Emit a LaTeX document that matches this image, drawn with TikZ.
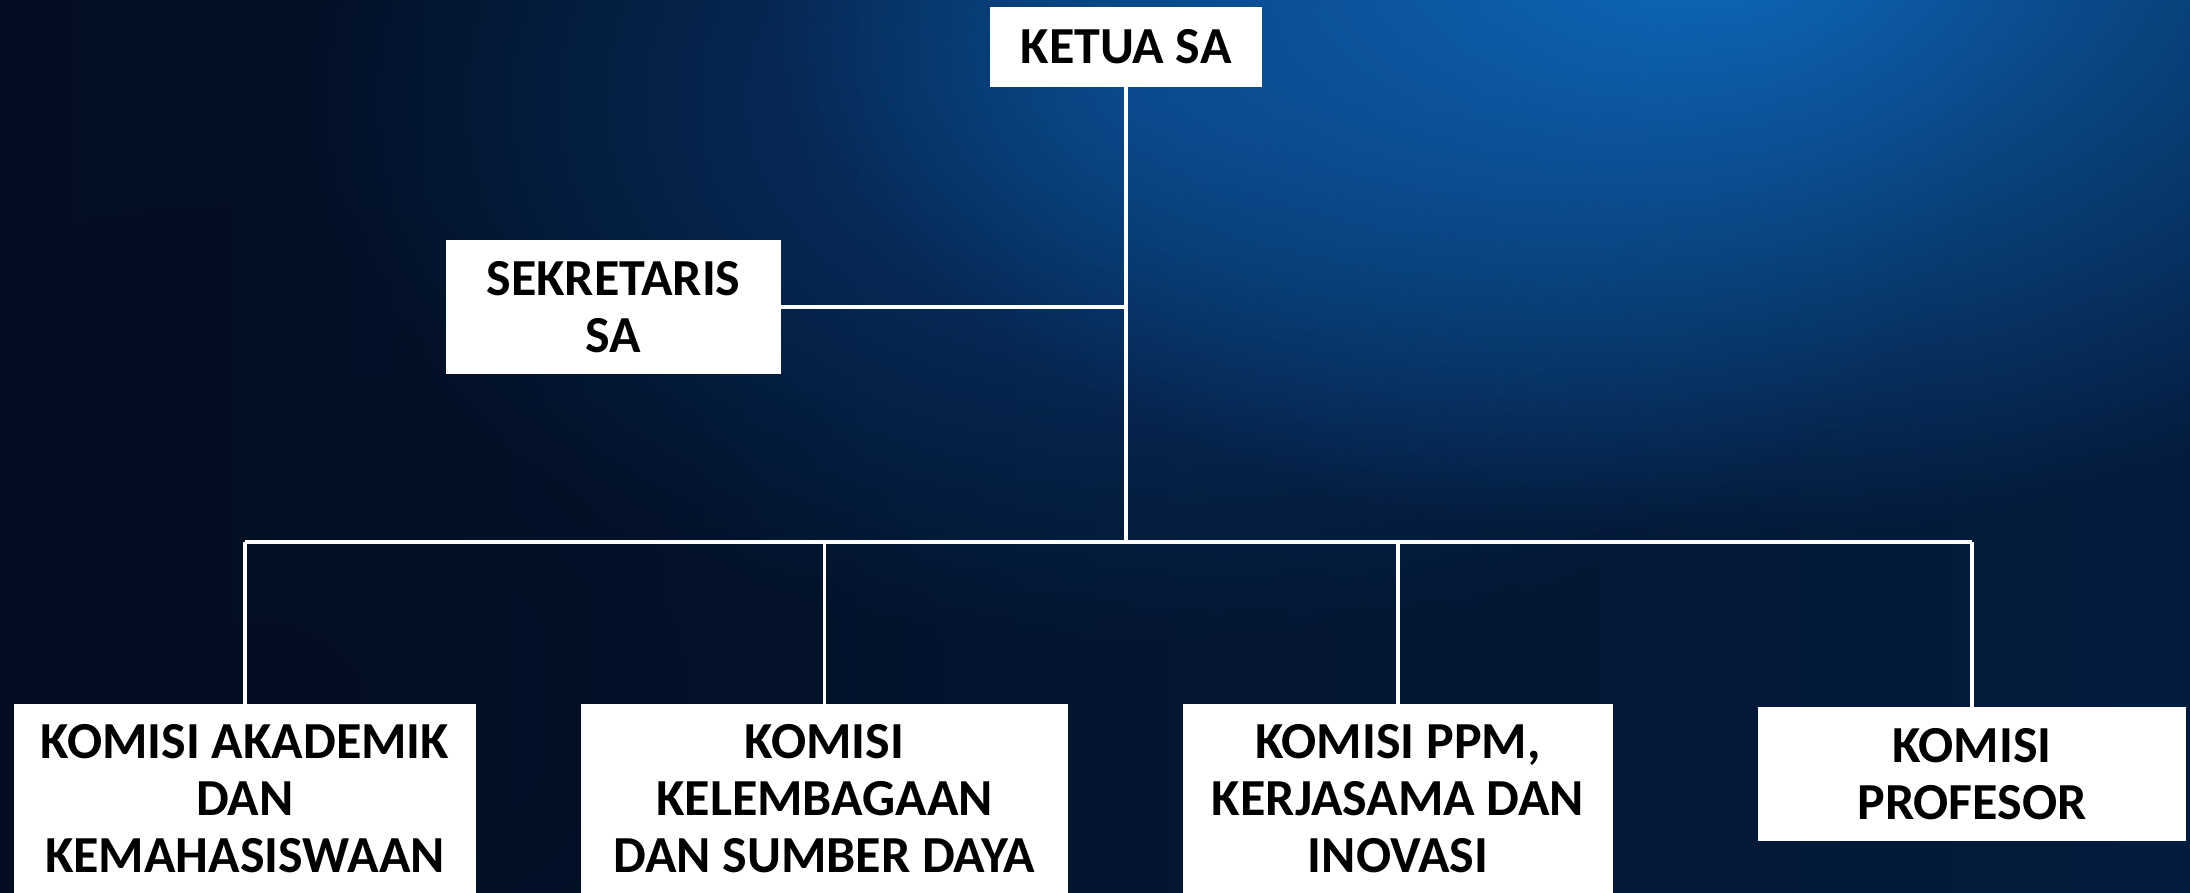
\documentclass[tikz,border=0pt]{standalone}
\usepackage{fontspec}
\setmainfont{Carlito}
\usetikzlibrary{fadings}
\definecolor{bgL}{RGB}{3,14,34}
\definecolor{bgR}{RGB}{4,28,62}
\definecolor{glow}{RGB}{16,112,200}
\definecolor{glowb}{RGB}{10,66,130}
\tikzfading[name=softglow, inner color=transparent!0, outer color=transparent!100]
\tikzset{
  orgbox/.style={fill=white, text=black, inner sep=0pt, align=center,
    font=\fontsize{52}{57}\selectfont\bfseries},
  conn/.style={draw=white, line width=3.5pt}
}
\begin{document}
\begin{tikzpicture}[x=1pt,y=-1pt]
\useasboundingbox (0,0) rectangle (2190,892);
\clip (0,0) rectangle (2190,892);
% background
\shade[left color=bgL, right color=bgR] (0,0) rectangle (2190,892);
\fill[glowb, opacity=0.8, path fading=softglow] (1150,100) ellipse (850 and 550);
\fill[glow, opacity=0.95, path fading=softglow] (1700,-80) ellipse (950 and 620);
\fill[bgL, opacity=0.6, path fading=softglow] (250,700) ellipse (700 and 500);
% nodes
\node[orgbox, minimum width=272pt, minimum height=80pt] (ketua) at (1126,47) {KETUA SA};
\node[orgbox, minimum width=335pt, minimum height=134pt] (sek) at (613.5,307) {SEKRETARIS\\SA};
\node[orgbox, minimum width=462pt, minimum height=190pt] (k1) at (245,799) {KOMISI AKADEMIK\\DAN\\KEMAHASISWAAN};
\node[orgbox, minimum width=487pt, minimum height=190pt] (k2) at (824.5,799) {KOMISI\\KELEMBAGAAN\\DAN SUMBER DAYA};
\node[orgbox, minimum width=430pt, minimum height=190pt] (k3) at (1398,799) {KOMISI PPM,\\KERJASAMA DAN\\INOVASI};
\node[orgbox, minimum width=428pt, minimum height=134pt] (k4) at (1972,774) {KOMISI\\PROFESOR};
% connectors
\coordinate (hub) at (1126,542);
\draw[conn] (ketua.south) -- (hub);
\draw[conn] (sek.east) -- (sek.east -| hub);
\draw[conn] (k1.north |- hub) -- (k4.north |- hub);
\draw[conn] (k1.north) -- (k1.north |- hub);
\draw[conn] (k2.north) -- (k2.north |- hub);
\draw[conn] (k3.north) -- (k3.north |- hub);
\draw[conn] (k4.north) -- (k4.north |- hub);
\end{tikzpicture}
\end{document}
